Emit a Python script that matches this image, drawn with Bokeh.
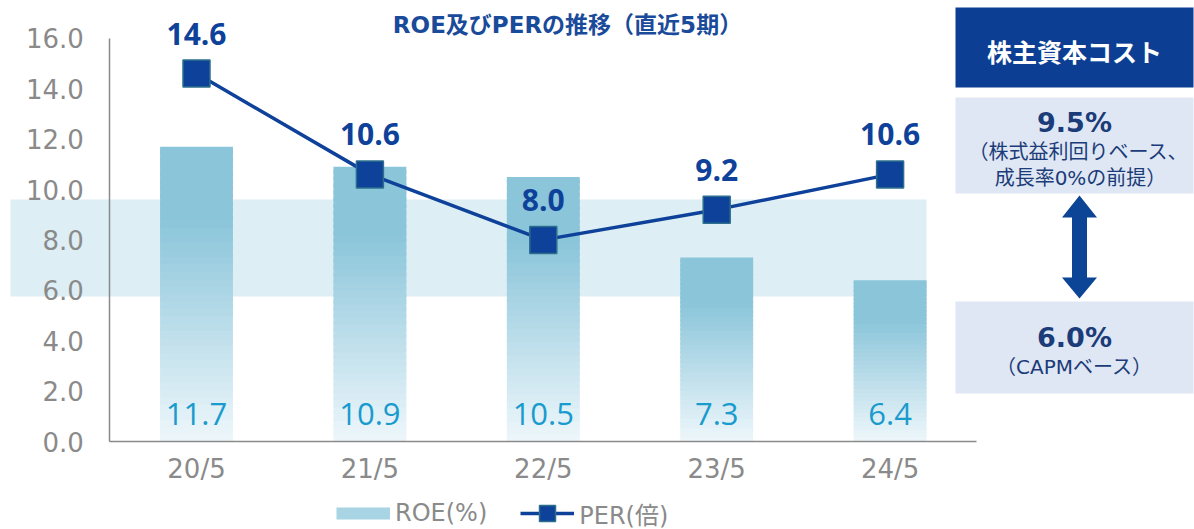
from bokeh.plotting import figure
from bokeh.models import (ColumnDataSource, Range1d, FixedTicker, NumeralTickFormatter,
                          BoxAnnotation, Label, PolyAnnotation, Legend, LegendItem)
from bokeh.core.properties import value
from bokeh.embed import file_html
from bokeh.resources import INLINE

# ---------------- data ----------------
periods = ["20/5", "21/5", "22/5", "23/5", "24/5"]
roe = [11.7, 10.9, 10.5, 7.3, 6.4]          # ROE (%)
per = [14.6, 10.6, 8.0, 9.2, 10.6]          # PER (倍)
y_ticks = [0, 2, 4, 6, 8, 10, 12, 14, 16]
band_range = [5.75, 9.6]                    # shaded cost-of-equity band
cost_high = "9.5%"
cost_high_note = ["（株式益利回りベース、", "成長率0%の前提）"]
cost_low = "6.0%"
cost_low_note = "（CAPMベース）"
title_text = "ROE及びPERの推移（直近5期）"
panel_title = "株主資本コスト"
legend_labels = ["ROE(%)", "PER(倍)"]

LATIN = "'DejaVu Sans', 'Noto Sans CJK JP'"
NUM = "'Open Sans', 'Noto Sans CJK JP'"
CJK = "'Noto Sans CJK JP'"
GRAY = "#8A8A8A"
NAVY = "#0E4199"

W, H = 1194, 529
X0_PX, X_UNIT = 109.3, 173.4        # page x of category axis origin, px per category
Y0_PX, Y_UNIT = 441.0, 25.2         # page y of value 0, px per unit

xpos = [i + 0.5 for i in range(len(periods))]
bar_w = 0.42

p = figure(width=W, height=H,
           x_range=Range1d(-X0_PX / X_UNIT, (W - X0_PX) / X_UNIT),
           y_range=Range1d(-(H - Y0_PX) / Y_UNIT, Y0_PX / Y_UNIT),
           output_backend="svg", toolbar_location=None,
           min_border_left=0, min_border_right=0, min_border_top=0, min_border_bottom=0)
p.outline_line_color = None
p.xgrid.visible = False
p.ygrid.visible = False
p.background_fill_color = "white"

# band
band = BoxAnnotation(left=10, left_units="screen", right=xpos[-1] + bar_w / 2,
                     bottom=band_range[0], top=band_range[1],
                     fill_color="#DDEEF5", fill_alpha=1.0, line_color=None, level="underlay")
p.add_layout(band)

# gradient bars made of slices
def mix(c1, c2, t):
    return "#%02x%02x%02x" % tuple(int(round(a + (b - a) * t)) for a, b in zip(c1, c2))

light = (238, 247, 251)
dark = (139, 197, 218)
N = 40
bx, bb, bt, bc = [], [], [], []
for xv, v in zip(xpos, roe):
    for k in range(N):
        f0 = k / N
        f1 = (k + 1) / N
        bx.append(xv)
        bb.append(v * f0)
        bt.append(v * min(1.0, f1 + 0.6 / N))
        t = min(1.0, ((f0 + f1) / 2) / 0.75)
        bc.append(mix(light, dark, t))
bar_src = ColumnDataSource(dict(x=bx, bottom=bb, top=bt, color=bc))
p.vbar(x="x", bottom="bottom", top="top", width=bar_w, fill_color="color", line_color=None, source=bar_src)

# ROE labels at bar bottom
p.text(x=xpos, y=[0] * len(xpos), text=[f"{v:.1f}" for v in roe],
       text_font=value(NUM), text_font_size="31px", text_color="#1A9BCD",
       text_align="center", text_baseline="middle", y_offset=-28)

# PER line + markers
per_line = p.line(x=xpos, y=per, line_color=NAVY, line_width=3.5)
per_pts = p.scatter(x=xpos, y=per, marker="square", size=27, fill_color=NAVY,
                    line_color="#2C6F8C", line_width=1.5)
p.text(x=xpos, y=per, text=[f"{v:.1f}" for v in per],
       text_font=value(NUM), text_font_size="30px", text_font_style="bold", text_color=NAVY,
       text_align="center", text_baseline="middle", y_offset=-40)

# axes (fixed inside the frame)
xa = p.xaxis[0]
ya = p.yaxis[0]
xa.fixed_location = 0
ya.fixed_location = 0
xa.ticker = FixedTicker(ticks=xpos)
xa.major_label_overrides = {xv: lab for xv, lab in zip(xpos, periods)}
xa.bounds = (0, len(periods))
ya.ticker = FixedTicker(ticks=y_ticks)
ya.formatter = NumeralTickFormatter(format="0.0")
ya.bounds = (0, y_ticks[-1])
for ax in (xa, ya):
    ax.axis_line_color = GRAY
    ax.axis_line_width = 1.5
    ax.major_tick_line_color = None
    ax.minor_tick_line_color = None
    ax.major_tick_out = 0
    ax.major_tick_in = 0
    ax.major_label_text_font = LATIN
    ax.major_label_text_font_size = "26px"
    ax.major_label_text_color = GRAY
ya.major_label_standoff = 26
xa.major_label_standoff = 12

# title
def sy(py):
    return H - py

p.add_layout(Label(x=567, y=sy(24), x_units="screen", y_units="screen", text=title_text,
                   text_font=LATIN, text_font_size="23px", text_font_style="bold",
                   text_color="#1A4A9A", text_align="center", text_baseline="middle"))

# ---------------- right panel ----------------
def box(l, r, t, b, color):
    p.add_layout(BoxAnnotation(left=l, right=r, top=sy(t), bottom=sy(b),
                               left_units="screen", right_units="screen",
                               top_units="screen", bottom_units="screen",
                               fill_color=color, fill_alpha=1.0, line_color=None))

box(955, 1193, 7, 87, "#0C3F94")
box(955, 1193, 97, 193, "#DFE7F4")
box(955, 1193, 301, 393, "#DFE7F4")

def lab(px, py, text, size, bold=False, color="#1B3C78", font=LATIN):
    p.add_layout(Label(x=px, y=sy(py), x_units="screen", y_units="screen", text=text,
                       text_font=font, text_font_size=size, text_font_style="bold" if bold else "normal",
                       text_color=color, text_align="center", text_baseline="middle"))

lab(1074, 50, panel_title, "25px", True, "white", CJK)
lab(1074, 122, cost_high, "27px", True)
lab(1078, 151, cost_high_note[0], "20px")
lab(1080, 177, cost_high_note[1], "20px")
lab(1074, 337, cost_low, "27px", True)
lab(1074, 366, cost_low_note, "20px")

ax_pts = [(1079, 195), (1096.5, 217), (1086.5, 217), (1086.5, 277), (1096.5, 277), (1079, 298),
          (1061.5, 277), (1071.5, 277), (1071.5, 217), (1061.5, 217)]
p.add_layout(PolyAnnotation(xs=[a for a, b in ax_pts], ys=[sy(b) for a, b in ax_pts],
                            xs_units="screen", ys_units="screen",
                            fill_color="#0D4596", fill_alpha=1.0, line_color=None))

# ---------------- legend ----------------
nan = float("nan")
roe_leg = p.line(x=[xpos[0], xpos[1]], y=[nan, nan], line_width=12, line_color="#A8D4E4", line_cap="butt")
legend = Legend(items=[LegendItem(label=legend_labels[0], renderers=[roe_leg]),
                       LegendItem(label=legend_labels[1], renderers=[per_line, per_pts])],
                location=(336, sy(533)), orientation="horizontal", glyph_width=54, glyph_height=40,
                label_standoff=5, spacing=33, padding=0, margin=0,
                border_line_color=None, background_fill_alpha=0,
                label_text_font=LATIN, label_text_font_size="24px", label_text_color=GRAY)
p.add_layout(legend)

open("out.html", "w").write(file_html(p, INLINE))
